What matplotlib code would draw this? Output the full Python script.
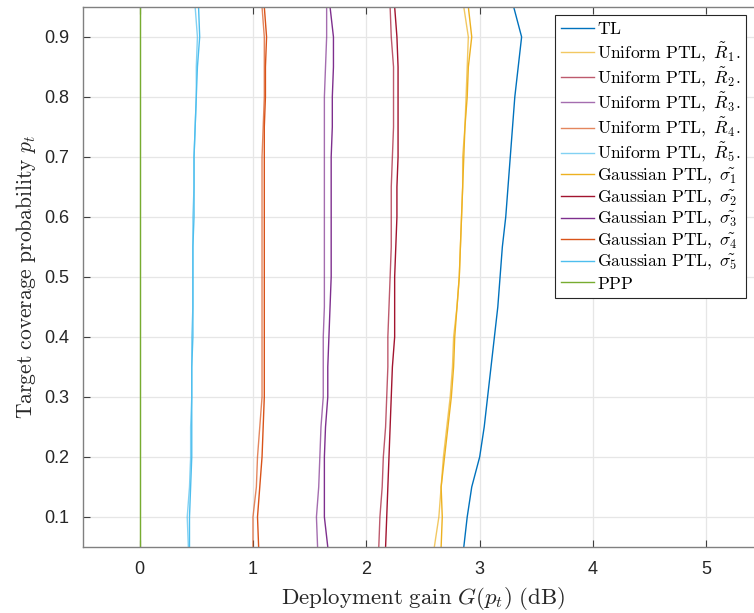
import numpy as np
import matplotlib
matplotlib.use("Agg")
import matplotlib.pyplot as plt

# target coverage probability levels
p_t = [0.05, 0.10, 0.15, 0.20, 0.25, 0.30, 0.35, 0.40, 0.45, 0.50,
       0.55, 0.60, 0.65, 0.70, 0.75, 0.80, 0.85, 0.90, 0.95]

# deployment gain (dB)
gain_tl = [2.86, 2.89, 2.93, 3.00, 3.04, 3.07, 3.10, 3.13, 3.16, 3.18,
           3.20, 3.23, 3.25, 3.27, 3.29, 3.31, 3.34, 3.37, 3.30]

gain_uni_1 = [2.60, 2.64, 2.66, 2.68, 2.71, 2.74, 2.76, 2.77, 2.80, 2.82,
              2.83, 2.84, 2.85, 2.85, 2.87, 2.88, 2.89, 2.90, 2.86]
gain_uni_2 = [2.11, 2.12, 2.14, 2.15, 2.17, 2.18, 2.19, 2.19, 2.20, 2.21,
              2.22, 2.22, 2.22, 2.23, 2.24, 2.24, 2.24, 2.22, 2.21]
gain_uni_3 = [1.57, 1.56, 1.58, 1.59, 1.60, 1.62, 1.62, 1.62, 1.63, 1.63,
              1.63, 1.63, 1.63, 1.63, 1.63, 1.63, 1.64, 1.65, 1.65]
gain_uni_4 = [1.00, 1.00, 1.03, 1.04, 1.06, 1.08, 1.08, 1.08, 1.08, 1.08,
              1.08, 1.08, 1.08, 1.08, 1.09, 1.10, 1.10, 1.10, 1.08]
gain_uni_5 = [0.43, 0.42, 0.44, 0.45, 0.45, 0.46, 0.46, 0.46, 0.47, 0.47,
              0.47, 0.47, 0.48, 0.48, 0.49, 0.50, 0.50, 0.51, 0.49]

gain_gau_1 = [2.66, 2.67, 2.66, 2.69, 2.72, 2.75, 2.77, 2.78, 2.80, 2.82,
              2.83, 2.84, 2.85, 2.86, 2.87, 2.89, 2.90, 2.93, 2.90]
gain_gau_2 = [2.17, 2.18, 2.19, 2.20, 2.21, 2.22, 2.23, 2.25, 2.25, 2.25,
              2.26, 2.27, 2.27, 2.28, 2.28, 2.28, 2.28, 2.27, 2.25]
gain_gau_3 = [1.66, 1.63, 1.63, 1.63, 1.64, 1.66, 1.66, 1.67, 1.68, 1.69,
              1.69, 1.69, 1.69, 1.69, 1.70, 1.70, 1.71, 1.71, 1.68]
gain_gau_4 = [1.05, 1.04, 1.06, 1.08, 1.09, 1.10, 1.10, 1.10, 1.10, 1.10,
              1.10, 1.10, 1.10, 1.10, 1.10, 1.11, 1.11, 1.12, 1.10]
gain_gau_5 = [0.44, 0.44, 0.45, 0.46, 0.46, 0.46, 0.46, 0.47, 0.47, 0.47,
              0.47, 0.48, 0.48, 0.48, 0.49, 0.50, 0.51, 0.53, 0.52]

gain_ppp = [0.0] * len(p_t)

# MATLAB default colours
blue, orange, yellow = '#0072BD', '#D95319', '#EDB120'
purple, green, cyan, red = '#7E2F8E', '#77AC30', '#4DBEEE', '#A2142F'

plt.rcParams['mathtext.fontset'] = 'cm'

fig = plt.figure(figsize=(7.54, 6.13), dpi=100)
ax = fig.add_axes([0.110, 0.1077, 0.902, 0.881])

ax.plot(gain_tl, p_t, color=blue, lw=1.0, label=r'$\mathrm{TL}$')

uni = [gain_uni_1, gain_uni_2, gain_uni_3, gain_uni_4, gain_uni_5]
gau = [gain_gau_1, gain_gau_2, gain_gau_3, gain_gau_4, gain_gau_5]
cols = [yellow, red, purple, orange, cyan]

for i, (g, c) in enumerate(zip(uni, cols)):
    ax.plot(g, p_t, color=c, lw=1.0, alpha=0.7,
            label=r'$\mathrm{Uniform\ PTL,}\ \tilde{R}_%d.$' % (i + 1))
for i, (g, c) in enumerate(zip(gau, cols)):
    ax.plot(g, p_t, color=c, lw=1.0,
            label=r'$\mathrm{Gaussian\ PTL,}\ \tilde{\sigma_%d}$' % (i + 1))

ax.plot(gain_ppp, p_t, color=green, lw=1.0, label=r'$\mathrm{PPP}$')

ax.set_xlim(-0.5, 5.5)
ax.set_ylim(0.05, 0.95)
ax.set_xticks([0, 1, 2, 3, 4, 5])
ax.set_yticks(np.arange(0.1, 0.95, 0.1))
ax.set_yticklabels(['%.1f' % v for v in np.arange(0.1, 0.95, 0.1)])

ax.grid(True, color='#e6e6e6', lw=0.9)
ax.set_axisbelow(True)
for s in ax.spines.values():
    s.set_color('#808080')
    s.set_linewidth(1.0)
ax.tick_params(direction='in', length=5, color='#404040', top=True, right=True,
               labelsize=13, labelcolor='#262626', pad=10)
for lab in ax.get_xticklabels() + ax.get_yticklabels():
    lab.set_family('Liberation Sans')

ax.set_xlabel(r'$\mathrm{Deployment\ gain}\ G(p_t)\ \mathrm{(dB)}$',
              fontsize=16.5, color='#262626', labelpad=5)
ax.set_ylabel(r'$\mathrm{Target\ coverage\ probability}\ p_t$',
              fontsize=15.5, color='#262626', labelpad=4)

leg = ax.legend(loc='upper right', bbox_to_anchor=(0.975, 0.985), fontsize=12.6,
                fancybox=False, framealpha=1, edgecolor='#262626',
                handlelength=1.9, handletextpad=0.2, labelspacing=0.12,
                borderpad=0.3, borderaxespad=0)
leg.get_frame().set_linewidth(0.8)

fig.savefig('out.png', dpi=100)
